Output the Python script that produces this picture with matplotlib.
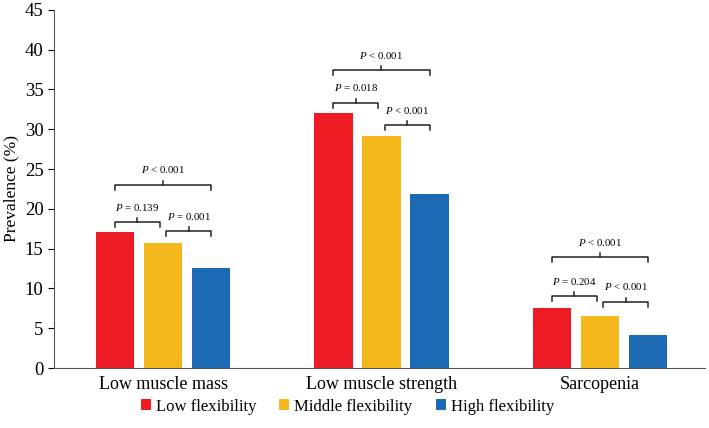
import matplotlib.pyplot as plt
import numpy as np

plt.rcParams['font.family'] = ['Liberation Serif', 'DejaVu Serif']
plt.rcParams['mathtext.fontset'] = 'custom'
plt.rcParams['mathtext.it'] = 'Liberation Serif:italic'
plt.rcParams['mathtext.rm'] = 'Liberation Serif'

# Daten
kategorien = ["Low muscle mass", "Low muscle strength", "Sarcopenia"]
gruppen = ["Low flexibility", "Middle flexibility", "High flexibility"]
low_flex = [17.1, 32.0, 7.5]
middle_flex = [15.7, 29.2, 6.6]
high_flex = [12.6, 21.9, 4.2]

# P-Werte: (links, rechts, gesamt) je Kategorie
p_links = ["= 0.139", "= 0.018", "= 0.204"]
p_rechts = ["= 0.001", "< 0.001", "< 0.001"]
p_gesamt = ["< 0.001", "< 0.001", "< 0.001"]
h_links = [18.3, 33.3, 9.0]
h_rechts = [17.2, 30.5, 8.3]
h_gesamt = [23.0, 37.4, 13.9]

farben = ["#ED1C24", "#F5B81C", "#1B6AB3"]

fig = plt.figure(figsize=(7.09, 4.28), dpi=100)
ax = fig.add_axes([0.076, 0.140, 0.918, 0.837])

x = np.arange(len(kategorien))
breite = 0.175
abstand = 0.22

for i, (werte, name) in enumerate(zip([low_flex, middle_flex, high_flex], gruppen)):
    ax.bar(x + (i - 1) * abstand, werte, width=breite, color=farben[i], label=name)


def klammer(x0, x1, y, text):
    d = 0.6
    ax.plot([x0, x0, x1, x1], [y - d, y, y, y - d], color="#222222", lw=1.1)
    xm = (x0 + x1) / 2
    ax.plot([xm, xm], [y, y + 0.5], color="#222222", lw=1.1)
    ax.text(xm, y + 1.2, r"$\it{P}$ " + text, ha="center", va="bottom",
            fontsize=7.8)


for k in range(len(kategorien)):
    klammer(x[k] - abstand, x[k] - 0.015, h_links[k], p_links[k])
    klammer(x[k] + 0.015, x[k] + abstand, h_rechts[k], p_rechts[k])
    klammer(x[k] - abstand, x[k] + abstand, h_gesamt[k], p_gesamt[k])

ax.set_xlim(-0.5, 2.48)
ax.set_ylim(0, 45)
ax.set_yticks(range(0, 46, 5))
ax.set_xticks(x)
ax.set_xticklabels(kategorien, fontsize=13)
ax.tick_params(axis="x", length=0, pad=6)
ax.tick_params(axis="y", labelsize=13.5, direction="out", length=4)
ax.set_ylabel("Prevalence (%)", fontsize=12.5, labelpad=4)
ax.spines['top'].set_visible(False)
ax.spines['right'].set_visible(False)
ax.spines['bottom'].set_color("#555555")
ax.spines['left'].set_color("#555555")

fig.legend(loc="center", bbox_to_anchor=(0.490, 0.050), ncol=3, frameon=False,
           fontsize=12, handlelength=0.6, handleheight=0.6, handletextpad=0.3,
           columnspacing=1.4)

plt.savefig("out.png", dpi=100)
plt.close()
